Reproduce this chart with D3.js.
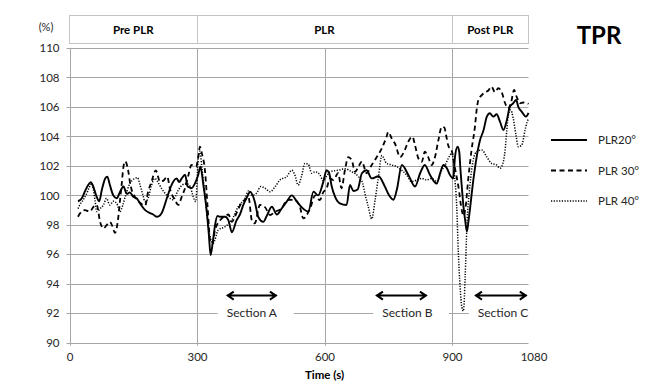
<!DOCTYPE html>
<html>
<head>
<meta charset="utf-8">
<script src="https://cdn.jsdelivr.net/npm/d3@7"></script>
<style>
body { margin: 0; background: #fff; }
svg { font-family: Lato, "Open Sans", sans-serif; }
</style>
</head>
<body>
<svg id="chart" width="647" height="383"></svg>
<script>
// values (time in s, TPR in %)
const plr20Time = [20, 29, 36, 44, 50, 56, 64, 70, 76, 84, 89, 95, 103, 111, 119, 127, 135, 142, 150, 158, 166, 178, 189, 197, 205, 211, 217, 229, 240, 252, 258, 264, 272, 278, 287, 295, 303, 308, 315, 323, 328, 332, 337, 342, 348, 354, 366, 374, 382, 393, 401, 409, 418, 425, 436, 444, 456, 464, 476, 488, 499, 511, 523, 535, 546, 562, 574, 585, 597, 605, 611, 617, 625, 636, 652, 660, 668, 678, 688, 699, 711, 727, 742, 752, 762, 770, 782, 797, 813, 825, 836, 848, 864, 872, 880, 888, 895, 903, 907, 913, 917, 920, 923, 927, 931, 935, 939, 942, 950, 958, 966, 974, 982, 989, 997, 1005, 1013, 1021, 1029, 1036, 1044, 1051, 1056, 1064, 1074, 1080]
const plr20Value = [99.6, 99.8, 100.25, 100.7, 100.9, 100.6, 99.9, 99.6, 100.36, 101.15, 101.27, 100.7, 100.0, 99.8, 100.25, 100.6, 100.1, 100.2, 99.9, 99.8, 99.45, 99.0, 98.8, 98.7, 98.55, 98.6, 98.8, 99.8, 100.7, 101.15, 100.9, 101.15, 101.4, 100.6, 100.5, 100.8, 101.4, 101.95, 100.7, 98.9, 97.3, 95.95, 96.8, 97.9, 98.6, 98.55, 98.55, 98.3, 97.5, 98.3, 98.7, 99.35, 99.9, 100.25, 99.57, 98.55, 98.2, 98.6, 99.23, 98.7, 99.1, 99.57, 100.0, 99.57, 99.2, 98.9, 100.25, 100.0, 100.9, 101.7, 101.5, 100.6, 99.9, 99.46, 99.35, 100.7, 100.3, 100.4, 101.5, 101.7, 101.15, 101.3, 100.6, 100.0, 99.7, 100.36, 102.06, 101.4, 100.6, 101.5, 102.06, 101.4, 100.8, 101.5, 102.06, 101.84, 101.4, 101.15, 102.6, 103.3, 102.96, 101.7, 100.6, 99.23, 98.3, 97.55, 98.3, 99.0, 101.0, 102.6, 103.75, 104.4, 105.34, 105.57, 105.34, 105.5, 105.0, 104.44, 105.1, 106.0, 106.25, 106.47, 106.0, 105.68, 105.34, 105.6]

const plr30Time = [20, 25, 36, 48, 56, 64, 72, 80, 88, 95, 101, 107, 115, 119, 123, 127, 131, 138, 142, 146, 154, 166, 178, 185, 193, 203, 213, 221, 230, 236, 248, 256, 264, 272, 280, 287, 298, 303, 307, 311, 319, 325, 331, 336, 342, 354, 366, 374, 382, 393, 405, 413, 421, 429, 436, 448, 460, 472, 484, 499, 507, 515, 531, 542, 550, 566, 578, 589, 597, 605, 613, 621, 632, 640, 648, 656, 664, 672, 680, 688, 699, 711, 723, 735, 746, 750, 758, 766, 778, 789, 797, 807, 813, 821, 829, 836, 844, 852, 860, 868, 876, 882, 886, 891, 900, 907, 915, 923, 927, 932, 938, 946, 954, 958, 962, 970, 978, 985, 993, 1001, 1009, 1017, 1025, 1032, 1039, 1046, 1052, 1060, 1068, 1077, 1080]
const plr30Value = [98.55, 98.78, 99.0, 98.9, 99.2, 99.35, 98.2, 97.76, 98.0, 98.2, 97.9, 97.45, 98.55, 99.68, 100.8, 101.95, 102.3, 101.7, 100.93, 100.4, 99.9, 99.5, 99.3, 100.25, 100.93, 101.7, 100.93, 101.0, 101.27, 100.48, 99.68, 99.35, 99.9, 100.5, 101.4, 102.06, 101.95, 102.6, 103.3, 102.9, 101.6, 99.2, 96.9, 96.7, 97.6, 98.3, 98.6, 98.7, 98.2, 98.8, 99.5, 99.7, 99.9, 98.3, 98.1, 99.35, 99.2, 98.66, 98.9, 99.1, 99.5, 99.7, 99.68, 99.23, 98.44, 99.1, 100.0, 99.68, 100.2, 100.48, 101.15, 101.04, 101.5, 100.48, 101.7, 102.6, 102.4, 101.6, 101.95, 102.3, 101.5, 102.06, 102.6, 103.2, 103.98, 104.3, 103.87, 103.5, 102.6, 103.08, 103.64, 103.98, 103.4, 102.5, 102.28, 102.96, 102.6, 102.06, 102.6, 103.75, 104.66, 104.6, 104.1, 103.4, 102.96, 101.84, 100.6, 99.0, 98.6, 99.2, 101.04, 103.08, 104.66, 105.8, 106.47, 106.8, 107.0, 107.1, 107.38, 107.0, 107.27, 107.0, 106.25, 105.9, 106.3, 107.15, 106.7, 106.25, 106.3, 106.25, 106.2]

const plr40Time = [20, 25, 32, 40, 46, 52, 60, 64, 72, 80, 87, 95, 103, 111, 119, 125, 131, 142, 154, 160, 166, 172, 178, 185, 193, 201, 210, 218, 225, 232, 244, 255, 265, 275, 284, 291, 297, 303, 307, 311, 317, 323, 330, 338, 350, 366, 382, 397, 413, 421, 429, 440, 450, 460, 472, 484, 495, 511, 523, 530, 538, 546, 554, 562, 570, 578, 589, 597, 605, 613, 632, 648, 664, 680, 690, 695, 703, 711, 719, 727, 735, 746, 758, 770, 782, 793, 805, 817, 829, 840, 852, 864, 876, 884, 891, 900, 905, 911, 915, 919, 923, 927, 931, 935, 942, 950, 958, 970, 982, 993, 1005, 1013, 1019, 1025, 1029, 1032, 1038, 1044, 1051, 1056, 1064, 1072, 1077, 1080]
const plr40Value = [99.1, 99.4, 99.68, 100.1, 100.5, 100.8, 99.68, 98.9, 99.1, 99.35, 99.8, 99.35, 99.6, 99.46, 98.9, 99.3, 99.9, 100.8, 101.15, 101.2, 100.7, 100.1, 99.57, 99.8, 100.7, 101.15, 100.8, 100.4, 100.14, 99.9, 99.7, 100.3, 100.7, 100.8, 100.6, 99.9, 99.57, 102.5, 103.0, 102.0, 100.5, 98.8, 97.3, 96.74, 97.65, 97.87, 98.33, 99.23, 99.8, 100.3, 100.0, 100.14, 100.6, 100.48, 100.25, 100.6, 101.04, 101.27, 101.7, 101.4, 100.7, 101.3, 102.17, 102.1, 101.5, 101.6, 101.4, 101.0, 101.3, 101.6, 101.7, 101.8, 101.6, 101.27, 100.8, 100.14, 99.23, 98.4, 99.68, 101.27, 102.7, 102.17, 102.06, 101.95, 101.7, 101.4, 100.93, 101.04, 101.15, 101.04, 101.15, 100.93, 101.7, 102.06, 102.5, 102.85, 101.6, 99.3, 96.07, 93.8, 92.44, 92.15, 94.48, 97.87, 100.6, 102.4, 102.96, 103.08, 102.6, 102.17, 102.06, 101.84, 102.1, 103.08, 104.44, 105.34, 105.8, 105.23, 104.0, 103.3, 103.4, 104.44, 105.0, 105.2]

const seriesNames = ["PLR20°", "PLR 30°", "PLR 40°"]
const yTicks = [90, 92, 94, 96, 98, 100, 102, 104, 106, 108, 110]
const xTicks = [0, 300, 600, 900, 1080]
const phaseNames = ["Pre PLR", "PLR", "Post PLR"]
const phaseBounds = [0, 300, 900, 1080]
const sectionNames = ["Section A", "Section B", "Section C"]
const sectionStart = [370, 721, 954]
const sectionEnd = [488, 841, 1076]
const sectionMid = [429, 795, 1020]
const arrowLevel = 93.2
const labelLevel = 92

const svg = d3.select("#chart")
const x = d3.scaleLinear().domain([0, 1080]).range([69.5, 528.5])
const y = d3.scaleLinear().domain([90, 110]).range([342.7, 48])
const gridColor = "#a6a6a6"

svg.append("rect").attr("width", 647).attr("height", 383).attr("fill", "#fff")

// horizontal grid
svg.append("g").selectAll("line").data(yTicks).join("line")
  .attr("x1", x(0) - 3).attr("x2", x(1080))
  .attr("y1", d => Math.round(y(d)) + 0.5).attr("y2", d => Math.round(y(d)) + 0.5)
  .attr("stroke", gridColor).attr("stroke-width", 1)

// vertical lines (axis + phase borders)
svg.append("g").selectAll("line").data(xTicks.filter(d => d < 1080)).join("line")
  .attr("x1", d => Math.round(x(d)) + 0.5).attr("x2", d => Math.round(x(d)) + 0.5)
  .attr("y1", y(110)).attr("y2", y(90) + 3)
  .attr("stroke", gridColor).attr("stroke-width", 1)

// y labels
const yAxis = svg.append("g")
  .attr("transform", `translate(${x(0) - 8},0)`)
  .call(d3.axisLeft(y).tickValues(yTicks).tickSize(0).tickPadding(2))
yAxis.select(".domain").remove()
yAxis.selectAll("text").attr("font-family", "Lato").attr("font-size", 11.5).attr("fill", "#262626")

// x labels
const xAxis = svg.append("g")
  .attr("transform", `translate(0,${y(90) + 6})`)
  .call(d3.axisBottom(x).tickValues(xTicks).tickFormat(d3.format("d")).tickSize(0).tickPadding(4))
xAxis.select(".domain").remove()
xAxis.selectAll("text").attr("font-family", "Lato").attr("font-size", 11.5).attr("fill", "#262626")
  .attr("dx", d => d === 1080 ? 5 : 0)

// header boxes
const head = svg.append("g")
head.append("rect")
  .attr("x", x(0)).attr("y", 15.5)
  .attr("width", x(1080) - x(0)).attr("height", 28)
  .attr("fill", "none").attr("stroke", "#c4c4c4")
head.selectAll("line").data(phaseBounds.slice(1, 3)).join("line")
  .attr("x1", d => Math.round(x(d)) + 0.5).attr("x2", d => Math.round(x(d)) + 0.5)
  .attr("y1", 15.5).attr("y2", 43.5)
  .attr("stroke", "#c4c4c4")
head.selectAll("text").data(phaseNames).join("text")
  .attr("x", (d, i) => (x(phaseBounds[i]) + x(phaseBounds[i + 1])) / 2)
  .attr("y", 29.5).attr("dy", "0.35em")
  .attr("text-anchor", "middle")
  .attr("font-weight", "bold").attr("font-size", 11.5)
  .text(d => d)

svg.append("text").attr("x", 46).attr("y", 27).attr("dy", "0.35em")
  .attr("text-anchor", "middle").attr("font-size", 11).attr("fill", "#262626")
  .text("(%)")

svg.append("text").attr("x", x(600)).attr("y", 379)
  .attr("text-anchor", "middle").attr("font-size", 11.5).attr("font-weight", "bold")
  .text("Time (s)")

svg.append("text").attr("x", 599).attr("y", 44)
  .attr("text-anchor", "middle").attr("font-size", 24).attr("font-weight", "bold")
  .text("TPR")

// section labels with white box over the 92 gridline
const sec = svg.append("g")
sectionNames.forEach((name, i) => {
  const t = sec.append("text")
    .attr("x", x(sectionMid[i])).attr("y", y(labelLevel)).attr("dy", "0.35em")
    .attr("text-anchor", "middle").attr("font-size", 12).attr("fill", "#262626")
    .text(name)
  const bb = t.node().getBBox()
  sec.insert("rect", "text")
    .attr("x", bb.x - 9).attr("y", bb.y - 1)
    .attr("width", Math.min(bb.width + 25, x(1080) - bb.x + 9)).attr("height", bb.height + 2)
    .attr("fill", "#fff")
  const ax0 = x(sectionStart[i]), ax1 = x(sectionEnd[i]), ay = y(arrowLevel)
  sec.append("path")
    .attr("d", `M${ax0},${ay}H${ax1}M${ax0 + 7},${ay - 4}L${ax0 + 1},${ay}L${ax0 + 7},${ay + 4}M${ax1 - 7},${ay - 4}L${ax1 - 1},${ay}L${ax1 - 7},${ay + 4}`)
    .attr("fill", "none").attr("stroke", "#000").attr("stroke-width", 2)
})

// data lines
const styles = [
  { w: 1.9, dash: null },
  { w: 1.8, dash: "5,3.5" },
  { w: 1.5, dash: "1.2,1.5" }
]
const series = [
  plr20Time.map((t, i) => [t, plr20Value[i]]),
  plr30Time.map((t, i) => [t, plr30Value[i]]),
  plr40Time.map((t, i) => [t, plr40Value[i]])
]
const line = d3.line().x(d => x(d[0])).y(d => y(d[1])).curve(d3.curveMonotoneX)
svg.append("g").selectAll("path").data(series).join("path")
  .attr("d", line)
  .attr("fill", "none").attr("stroke", "#000")
  .attr("stroke-width", (d, i) => styles[i].w)
  .attr("stroke-dasharray", (d, i) => styles[i].dash)
  .attr("stroke-linejoin", "round")

// legend
const legend = svg.append("g")
seriesNames.forEach((name, i) => {
  const ly = 140 + i * 30.5
  legend.append("line")
    .attr("x1", 551).attr("x2", 587).attr("y1", ly).attr("y2", ly)
    .attr("stroke", "#000").attr("stroke-width", styles[i].w)
    .attr("stroke-dasharray", styles[i].dash)
  legend.append("text")
    .attr("x", 598).attr("y", ly).attr("dy", "0.35em")
    .attr("font-size", 11.5).attr("fill", "#262626")
    .text(name)
})
</script>
</body>
</html>
